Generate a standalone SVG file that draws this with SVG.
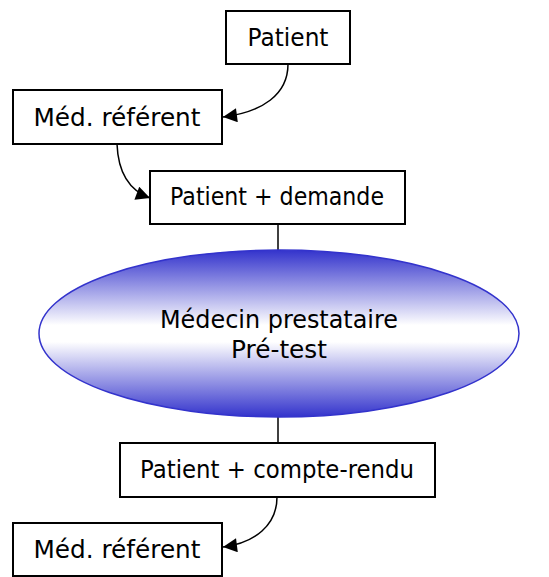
<svg xmlns="http://www.w3.org/2000/svg" width="549" height="577" viewBox="0 0 549 577">
<style>
.box{fill:#fff;stroke:#000;stroke-width:2}
.lbl{font-family:"DejaVu Sans","Liberation Sans",sans-serif;font-size:24px;fill:#000;text-anchor:middle}
.con{fill:none;stroke:#000;stroke-width:1.5}
</style>
<defs>
<linearGradient id="g" x1="0" y1="0" x2="0" y2="1">
<stop offset="0" stop-color="#3333cc"/>
<stop offset="0.45" stop-color="#ffffff"/>
<stop offset="0.55" stop-color="#ffffff"/>
<stop offset="1" stop-color="#3333cc"/>
</linearGradient>
<marker id="a" viewBox="0 0 10 10" refX="10" refY="5" markerWidth="16" markerHeight="14" markerUnits="userSpaceOnUse" orient="auto">
<path d="M0,0 L10,5 L0,10 z" fill="#000"/>
</marker>
</defs>
<g id="connectors">
<path class="con" d="M278,224 V250"/>
<path class="con" d="M278,417 V443"/>
<path class="con" d="M288,64 C288,95 262,112 223,117" marker-end="url(#a)"/>
<path class="con" d="M117,144 C118,170 128,190 150,198" marker-end="url(#a)"/>
<path class="con" d="M277,497 C277,525 255,543 223,547" marker-end="url(#a)"/>
</g>
<g id="patient">
<rect class="box" x="226" y="11" width="124" height="53"/>
<text class="lbl" x="288" y="46" textLength="81" lengthAdjust="spacingAndGlyphs">Patient</text>
</g>
<g id="med-referent-1">
<rect class="box" x="13" y="90" width="209" height="54"/>
<text class="lbl" x="117" y="126" textLength="167" lengthAdjust="spacingAndGlyphs">Méd. référent</text>
</g>
<g id="patient-demande">
<rect class="box" x="150" y="171" width="255" height="53"/>
<text class="lbl" x="277" y="205" textLength="214" lengthAdjust="spacingAndGlyphs">Patient + demande</text>
</g>
<g id="medecin-prestataire">
<ellipse cx="279" cy="333.5" rx="240" ry="83.5" fill="url(#g)" stroke="#3333cc" stroke-width="1.5"/>
<text class="lbl" x="279" y="328" textLength="238" lengthAdjust="spacingAndGlyphs">Médecin prestataire</text>
<text class="lbl" x="279" y="358" textLength="96" lengthAdjust="spacingAndGlyphs">Pré-test</text>
</g>
<g id="patient-compte-rendu">
<rect class="box" x="120" y="443" width="315" height="54"/>
<text class="lbl" x="277" y="478" textLength="274" lengthAdjust="spacingAndGlyphs">Patient + compte-rendu</text>
</g>
<g id="med-referent-2">
<rect class="box" x="13" y="523" width="209" height="53"/>
<text class="lbl" x="117" y="558" textLength="167" lengthAdjust="spacingAndGlyphs">Méd. référent</text>
</g>
</svg>
